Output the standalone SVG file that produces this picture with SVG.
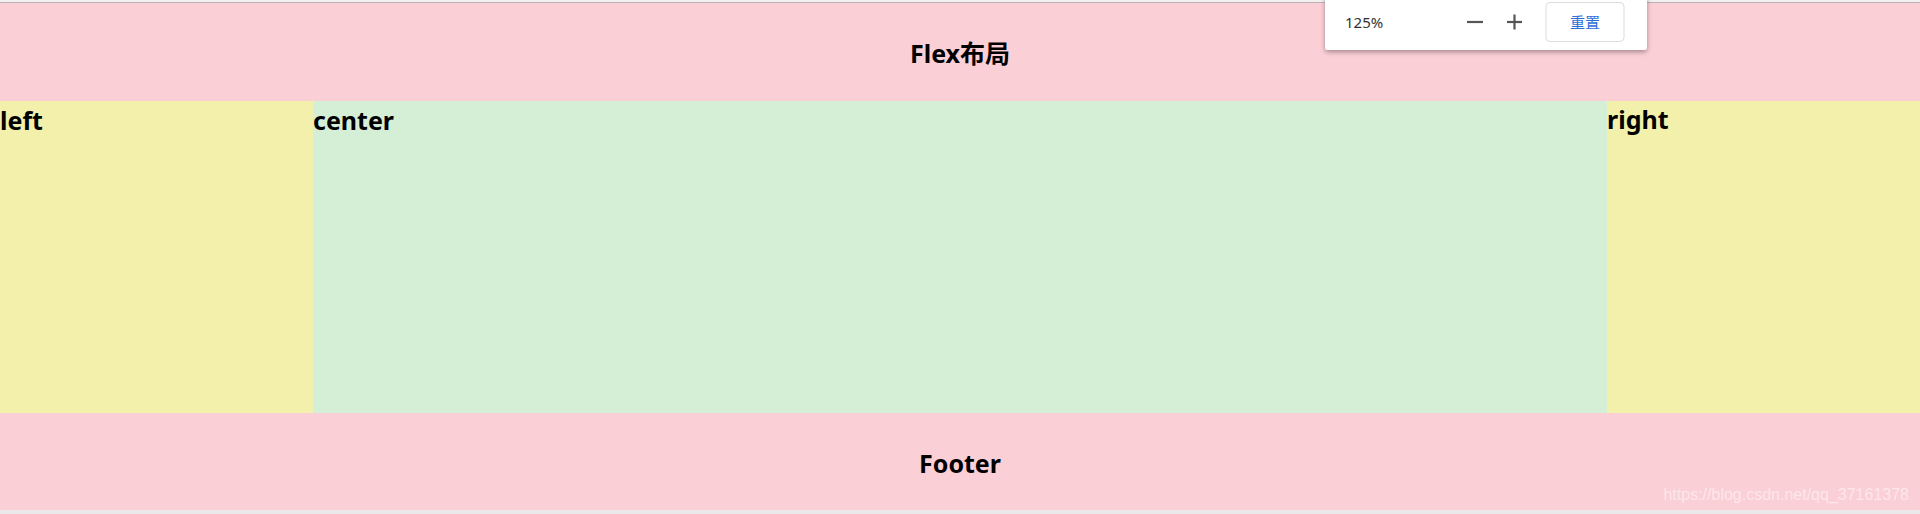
<svg xmlns="http://www.w3.org/2000/svg" width="1920" height="514" viewBox="0 0 1920 514">
<defs>
<style>
.pink{fill:#fbcfd6}
.yellow{fill:#f2f0ab}
.green{fill:#d5efd6}
.lbl{font-family:"Noto Sans","Liberation Sans",sans-serif;font-weight:bold;font-size:25px;fill:#000}
.ui{font-family:"Noto Sans","Liberation Sans","Noto Sans CJK SC",sans-serif;font-size:15px}
</style>
<filter id="sh" x="-10%" y="-30%" width="120%" height="180%">
<feDropShadow dx="0" dy="2" stdDeviation="2.5" flood-color="#000" flood-opacity="0.35"/>
</filter>
</defs>
<rect x="0" y="0" width="1920" height="514" fill="#ebe8e9"/>
<rect x="0" y="0" width="1920" height="2" fill="#f4f0f1"/>
<rect x="0" y="2" width="1920" height="1" fill="#b9b3b5"/>
<g id="header">
<rect class="pink" x="0" y="3" width="1920" height="98"/>
<text class="lbl" x="960" y="63" text-anchor="middle">Flex<tspan font-family="Noto Sans CJK SC, sans-serif">布局</tspan></text>
</g>
<g id="left">
<rect class="yellow" x="0" y="101" width="313" height="312"/>
<text class="lbl" x="0" y="130">left</text>
</g>
<g id="center">
<rect class="green" x="313" y="101" width="1294" height="312"/>
<text class="lbl" x="313" y="130">center</text>
</g>
<g id="right">
<rect class="yellow" x="1607" y="101" width="313" height="312"/>
<text class="lbl" x="1607" y="129">right</text>
</g>
<g id="footer">
<rect class="pink" x="0" y="413" width="1920" height="97"/>
<text class="lbl" x="960" y="473" text-anchor="middle">Footer</text>
<text x="1909" y="500" text-anchor="end" font-family="Liberation Sans, sans-serif" font-size="16" fill="#ffffff" fill-opacity="0.5">https://blog.csdn.net/qq_37161378</text>
</g>
<g id="zoom-popup">
<rect x="1325" y="-5" width="322" height="55" rx="3" fill="#ffffff" filter="url(#sh)"/>
<text class="ui" x="1345" y="28" fill="#333333">125%</text>
<line x1="1467" y1="22" x2="1483" y2="22" stroke="#555555" stroke-width="2.2"/>
<line x1="1507" y1="22" x2="1522" y2="22" stroke="#555555" stroke-width="2.2"/>
<line x1="1514.5" y1="14.5" x2="1514.5" y2="29.5" stroke="#555555" stroke-width="2.2"/>
<rect x="1546" y="2.5" width="78" height="39" rx="4" fill="#ffffff" stroke="#dadce0" stroke-width="1"/>
<text class="ui" x="1585" y="28" text-anchor="middle" fill="#2b6fd6" font-family="Noto Sans CJK SC, sans-serif">重置</text>
</g>
</svg>
